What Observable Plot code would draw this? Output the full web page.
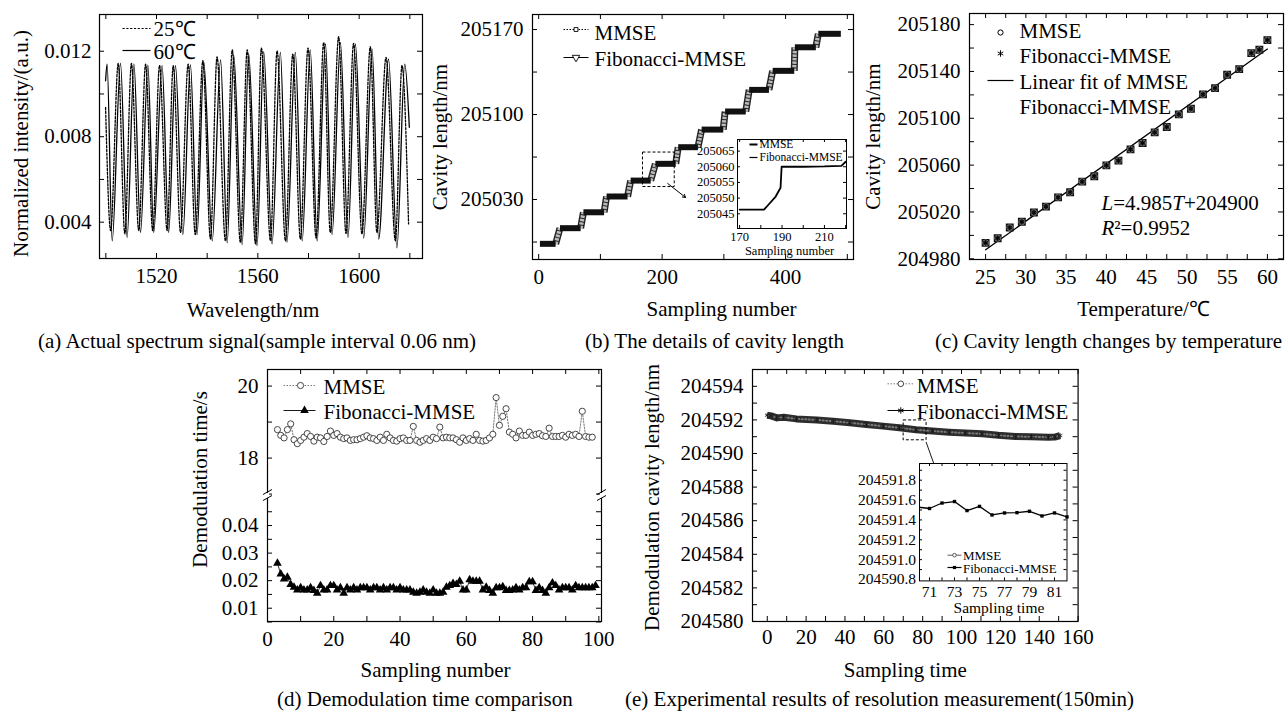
<!DOCTYPE html>
<html><head><meta charset="utf-8">
<script src="https://cdn.jsdelivr.net/npm/d3@7"></script>
<script src="https://cdn.jsdelivr.net/npm/@observablehq/plot@0.6"></script>
<style>
html,body{margin:0;padding:0;background:#fff;}
#root{position:relative;width:1288px;height:711px;overflow:hidden;font-family:"Liberation Serif","Times New Roman",serif;color:#000;background:#fff;}
#root svg, #root svg text{font-family:"Liberation Serif","Times New Roman",serif !important;}
.cap{position:absolute;font-size:21px;white-space:nowrap;line-height:1;}
</style></head><body><div id="root"></div>
<script>
// ---------- (a) spectrum: extrema ----------
const wl25 = [1499.9,1501.9,1504.9,1507.5,1510.1,1513.0,1515.7,1518.5,1521.2,1524.2,1526.6,1529.5,1532.5,1535.3,1538.3,1541.3,1543.9,1547.2,1549.9,1553.1,1555.8,1559.1,1561.4,1565.0,1567.6,1570.9,1573.8,1576.8,1579.8,1583.0,1586.0,1588.6,1591.9,1594.8,1597.8,1601.1,1604.4,1607.0,1610.6,1614.3,1616.9,1619.5];
const int25 = [0.00937,0.0036,0.01143,0.00345,0.01143,0.0036,0.0114,0.0036,0.01133,0.0036,0.01133,0.00352,0.0114,0.00342,0.01156,0.00321,0.01174,0.00313,0.01206,0.00306,0.01206,0.00298,0.01215,0.00313,0.01202,0.00313,0.01187,0.00321,0.01215,0.00326,0.01241,0.00352,0.01268,0.00347,0.01237,0.00345,0.01221,0.00352,0.01171,0.00313,0.01133,0.00392];
const wl60 = [1499.9,1500.5,1502.5,1505.8,1508.4,1511.1,1513.7,1516.6,1518.9,1522.2,1524.8,1527.5,1530.4,1533.4,1536.0,1538.7,1542.0,1545.3,1547.9,1550.5,1553.8,1556.4,1559.7,1562.3,1565.6,1568.9,1571.5,1574.8,1577.5,1580.7,1583.4,1586.7,1589.3,1592.6,1595.6,1598.5,1601.8,1605.1,1607.7,1611.6,1614.9,1618.0,1619.8];
const int60 = [0.01062,0.0114,0.00313,0.01143,0.00329,0.0114,0.00352,0.01135,0.00352,0.01133,0.00352,0.01133,0.00342,0.01136,0.00342,0.01148,0.00313,0.01159,0.00303,0.01179,0.00295,0.01187,0.0029,0.01198,0.00298,0.01195,0.00306,0.01195,0.00313,0.01206,0.00313,0.01234,0.00342,0.01241,0.00329,0.01234,0.00326,0.0121,0.00321,0.01163,0.0028,0.0114,0.00844];
const aXTicks = [1500,1520,1540,1560,1580,1600,1620];
const aXLabels = [1520,1560,1600];
const aYTicks = [0.004,0.006,0.008,0.010,0.012];
const aYLabels = [0.004,0.008,0.012];

// ---------- (b) cavity length staircase ----------
const stepStart = [2,34.5,72.5,110,149,189,226,264,302,341,379,415,453];
const stepEnd   = [27.5,68,106,144,181.5,222,258,299,335.5,373,414,449,489.5];
const stepLevel = [204993.5,205006.4,205019.5,205032.5,205045.6,205059.4,205073.1,205087.6,205102.5,205120.3,205136,205155.4,205166.5];
const bXTicks = [0,100,200,300,400,500];
const bXLabels = [0,200,400];
const bYTicks = [204995,205030,205065,205100,205135,205170];
const bYLabels = [205030,205100,205170];
// inset of (b)
const bInsN = [170,181.5,184,187,189.3,189.8,200,210,218,220];
const bInsL = [205046.3,205046.3,205048.2,205050.5,205053.3,205060,205060,205060.1,205060.3,205061.6];
const bInsXDomain = [169,220.4];
const bInsYDomain = [205040.3,205068.7];
const bInsXTicks = [170,180,190,200,210,220];
const bInsXLabels = [170,190,210];
const bInsYTicks = [205045,205050,205055,205060,205065];
const bArrow = [{x1:209,y1:205043.2,x2:238,y2:205031.7}];

// ---------- (c) cavity length vs temperature ----------
const tempC  = [25,26.5,28,29.5,31,32.5,34,35.5,37,38.5,40,41.5,43,44.5,46,47.5,49,50.5,52,53.5,55,56.5,58,59,60];
const lenC   = [204993.6,204997.6,205006.7,205011.6,205019.5,205024.6,205032.5,205036.8,205045.9,205050.5,205059.8,205063.8,205073.5,205078.9,205088,205092.6,205103.3,205108.2,205120.4,205125.8,205137.2,205142,205155.7,205158.5,205166.8];
const fitT = [25,60];
const fitL = [204987.7,205159.1];
const cXTicks = [25,27.5,30,32.5,35,37.5,40,42.5,45,47.5,50,52.5,55,57.5,60];
const cXLabels = [25,30,35,40,45,50,55,60];
const cYTicks = [204980,205000,205020,205040,205060,205080,205100,205120,205140,205160,205180];
const cYLabels = [204980,205020,205060,205100,205140,205180];
const eqText = "L=4.985T+204900";
const r2Text = "R²=0.9952";

// ---------- (d) demodulation time ----------
const dN = [3,4,5,6,7,8,9,10,11,12,13,14,15,16,17,18,19,20,21,22,23,24,25,26,27,28,29,30,31,32,33,34,35,36,37,38,39,40,41,42,43,44,45,46,47,48,49,50,51,52,53,54,55,56,57,58,59,60,61,62,63,64,65,66,67,68,69,70,71,72,73,74,75,76,77,78,79,80,81,82,83,84,85,86,87,88,89,90,91,92,93,94,95,96,97,98,99];
const dMMSE = [18.79,18.63,18.56,18.79,18.95,18.51,18.40,18.49,18.58,18.68,18.60,18.47,18.58,18.56,18.46,18.60,18.75,18.63,18.68,18.58,18.54,18.56,18.49,18.51,18.51,18.54,18.58,18.62,18.56,18.54,18.49,18.58,18.49,18.66,18.56,18.49,18.47,18.54,18.56,18.49,18.49,18.88,18.49,18.44,18.49,18.54,18.49,18.58,18.54,18.86,18.56,18.58,18.56,18.56,18.51,18.44,18.56,18.49,18.54,18.49,18.66,18.49,18.47,18.49,18.56,18.66,19.68,18.91,19.16,19.37,18.72,18.66,18.56,18.75,18.63,18.63,18.72,18.63,18.66,18.68,18.62,18.60,18.83,18.60,18.60,18.60,18.63,18.58,18.66,18.63,18.66,18.60,19.30,18.60,18.58,18.58];
const dFib = [0.0263,0.0224,0.0206,0.0212,0.0186,0.0176,0.0166,0.0174,0.0166,0.0166,0.0174,0.0164,0.0154,0.0182,0.0166,0.0166,0.0182,0.0182,0.0166,0.0174,0.0154,0.0174,0.0166,0.0174,0.0166,0.0174,0.0174,0.0174,0.0166,0.0174,0.0174,0.0166,0.0174,0.0166,0.0174,0.0174,0.0166,0.0174,0.0166,0.0166,0.0166,0.0158,0.0154,0.0158,0.0166,0.0158,0.0154,0.0166,0.0154,0.0154,0.0158,0.0176,0.0182,0.019,0.0186,0.0198,0.0166,0.0166,0.0203,0.0198,0.0198,0.0198,0.0166,0.0176,0.0164,0.0154,0.0174,0.0174,0.0178,0.0164,0.0164,0.0166,0.0174,0.0166,0.0174,0.0174,0.0196,0.0196,0.0164,0.0174,0.0164,0.0154,0.0174,0.0192,0.0182,0.0166,0.0174,0.0174,0.0174,0.0166,0.0182,0.0174,0.0174,0.0174,0.0174,0.0174,0.0182];
const dYDomain = [0.00518,0.0509,16.96,20.46];
const dXTicks = [0,10,20,30,40,50,60,70,80,90,100];
const dXLabels = [0,20,40,60,80,100];
const dYTicks = [0.005,0.01,0.015,0.02,0.025,0.03,0.035,0.04,0.045,17,18,19,20];
const dYLabels = [0.01,0.02,0.03,0.04,18,20];

// ---------- (e) resolution measurement ----------
const eT = [0,2,5,8.5,15,25.5,34,42.5,51,59.6,68,76.6,85,93.6,102,110.6,119,127.7,136,144.7,148,150.7];
const eL = [204592.28,204592.24,204592.12,204592.16,204592.06,204592.0,204591.92,204591.83,204591.73,204591.63,204591.53,204591.41,204591.34,204591.27,204591.22,204591.17,204591.08,204591.01,204591.0,204590.97,204590.98,204591.07];
const eXTicks = [0,10,20,30,40,50,60,70,80,90,100,110,120,130,140,150,160];
const eXLabels = [0,20,40,60,80,100,120,140,160];
const eYTicks = [204580,204581,204582,204583,204584,204585,204586,204587,204588,204589,204590,204591,204592,204593,204594,204595];
const eYLabels = [204580,204582,204584,204586,204588,204590,204592,204594];
// inset of (e)
const eInsT = [70,71,72,73,74,75,76,77,78,79,80,81,82];
const eInsL = [204591.53,204591.515,204591.57,204591.585,204591.494,204591.536,204591.45,204591.47,204591.473,204591.487,204591.44,204591.47,204591.43];
const eInsXDomain = [70.2,82];
const eInsYDomain = [204590.786,204591.968];
const eInsXTicks = [71,72,73,74,75,76,77,78,79,80,81];
const eInsXLabels = [71,73,75,77,79,81];
const eInsYTicks = [204590.9,204591.0,204591.1,204591.2,204591.3,204591.4,204591.5,204591.6,204591.7,204591.8,204591.9];
const eInsYLabels = [204590.8,204591.0,204591.2,204591.4,204591.6,204591.8];
const eArrow = [{x1:81.8,y1:204590.67,x2:88.5,y2:204588.5}];

const captions = [
  {t:"(a) Actual spectrum signal(sample interval 0.06 nm)", left:38, top:331},
  {t:"(b) The details of cavity length", left:585, top:331},
  {t:"(c) Cavity length changes by temperature", left:935, top:331},
  {t:"(d) Demodulation time comparison", left:277, top:689},
  {t:"(e) Experimental results of resolution measurement(150min)", left:625, top:689}
];

// ---------- helpers ----------
const root = document.getElementById("root");
const FONT = '"Liberation Serif","Times New Roman",Times,serif';

function place(opts, fx0, fy0, fx1, fy1, fs) {
  const svg = Plot.plot(Object.assign({
    width: fx1 - fx0, height: fy1 - fy0,
    marginTop: 0, marginRight: 0, marginBottom: 0, marginLeft: 0,
    style: {fontFamily: FONT, fontSize: fs + "px", overflow: "visible", color: "black", background: "transparent"}
  }, opts));
  svg.style.position = "absolute";
  svg.style.left = fx0 + "px";
  svg.style.top = fy0 + "px";
  svg.style.maxWidth = "none";
  root.appendChild(svg);
  return svg;
}
function inTicks(xv, yv, W, H, len) {
  return [
    Plot.ruleX(xv, {insetTop: H - len, stroke: "black"}),
    Plot.ruleX(xv, {insetBottom: H - len, stroke: "black"}),
    Plot.ruleY(yv, {insetRight: W - len, stroke: "black"}),
    Plot.ruleY(yv, {insetLeft: W - len, stroke: "black"})
  ];
}
function axes(xl, yl, fx, fy, px, py) {
  return [
    Plot.axisX(xl, {tickSize: 0, tickPadding: px, tickFormat: fx, label: null}),
    Plot.axisY(yl, {tickSize: 0, tickPadding: py, tickFormat: fy, label: null})
  ];
}
const lineSym = hw => ({draw(c){ c.moveTo(-hw, 0); c.lineTo(hw, 0); }});
function legLine(dx, dy, hw, o = {}) {
  return Plot.dot([0], Object.assign({frameAnchor: "top-left", dx, dy, symbol: lineSym(hw), fill: "none", stroke: "black", strokeWidth: 1.2}, o));
}
function legDot(dx, dy, symbol, o = {}) {
  return Plot.dot([0], Object.assign({frameAnchor: "top-left", dx, dy, symbol, stroke: "black", fill: "white", r: 3}, o));
}
function legText(t, dx, dy, o = {}) {
  return Plot.text([t], Object.assign({frameAnchor: "top-left", dx, dy, textAnchor: "start", lineAnchor: "middle"}, o));
}
function yTitle(t, dx, dy) {
  return Plot.text([t], {frameAnchor: "left", rotate: -90, dx, dy, textAnchor: "middle", lineAnchor: "middle"});
}
function xTitle(t, dx, dy) {
  return Plot.text([t], {frameAnchor: "bottom", dx, dy, textAnchor: "middle", lineAnchor: "middle"});
}
const fmtInt = d => String(d);
const zip = (a, b) => a.map((v, i) => ({x: v, y: b[i]}));

// ---------- (a) ----------
place({
  x: {domain: [1497.5, 1625]},
  y: {domain: [0.0023, 0.01372]},
  marks: [
    Plot.frame({stroke: "black", strokeWidth: 1.2}),
    ...inTicks(aXTicks, aYTicks, 323, 244, 5),
    Plot.line(zip(wl25, int25), {x: "x", y: "y", curve: "monotone-x", stroke: "black", strokeWidth: 1.3, strokeDasharray: "2.2,1.6"}),
    Plot.line(zip(wl60, int60), {x: "x", y: "y", curve: "monotone-x", stroke: "black", strokeWidth: 1.3}),
    ...axes(aXLabels, aYLabels, fmtInt, d3.format(".3f"), 10, 8),
    yTitle("Normalized intensity/(a.u.)", -78, 7),
    xTitle("Wavelength/nm", -8, 52),
    legLine(37, 14, 14, {strokeDasharray: "2.2,1.6"}),
    legText("25℃", 54, 15),
    legLine(37, 36, 14),
    legText("60℃", 54, 38)
  ]
}, 99, 14, 422, 258, 21);

// ---------- (b) ----------
const stepIdx = d3.range(stepLevel.length);
const rampIdx = d3.range(stepLevel.length - 1);
place({
  x: {domain: [-10, 510]},
  y: {domain: [204980.6, 205182.4]},
  marks: [
    Plot.frame({stroke: "black", strokeWidth: 1.2}),
    ...inTicks(bXTicks, bYTicks, 321, 245, 5),
    Plot.link(rampIdx, {x1: i => stepEnd[i], y1: i => stepLevel[i], x2: i => stepStart[i + 1], y2: i => stepLevel[i + 1], stroke: "#222", strokeWidth: 7}),
    Plot.link(rampIdx, {x1: i => stepEnd[i], y1: i => stepLevel[i], x2: i => stepStart[i + 1], y2: i => stepLevel[i + 1], stroke: "#bbb", strokeWidth: 4.2, strokeDasharray: "2.5,1"}),
    Plot.link(stepIdx, {x1: i => stepStart[i], x2: i => stepEnd[i], y1: i => stepLevel[i], y2: i => stepLevel[i], stroke: "#111", strokeWidth: 6}),
    Plot.rect([0], {x1: bInsXDomain[0], x2: bInsXDomain[1], y1: bInsYDomain[0], y2: bInsYDomain[1], fill: "none", stroke: "black", strokeDasharray: "3,2"}),
    Plot.arrow(bArrow, {x1: "x1", y1: "y1", x2: "x2", y2: "y2", stroke: "black", headLength: 5, strokeWidth: 1}),
    ...axes(bXLabels, bYLabels, fmtInt, fmtInt, 10, 9),
    yTitle("Cavity length/nm", -92, 0),
    xTitle("Sampling number", 28.5, 50),
    legLine(43.5, 15, 12.5, {strokeDasharray: "1.5,1.5", strokeWidth: 1}),
    legDot(43.5, 15, "square", {r: 2.2, strokeWidth: 0.9}),
    legText("MMSE", 62, 19),
    legLine(43.5, 43, 12.5, {strokeWidth: 1}),
    legDot(43.5, 43, "triangle", {r: 2.8, rotate: 180, strokeWidth: 0.9}),
    legText("Fibonacci-MMSE", 62, 45)
  ]
}, 532, 14, 853, 259, 21);

// inset (b)
place({
  x: {domain: bInsXDomain},
  y: {domain: bInsYDomain},
  marks: [
    Plot.frame({stroke: "black", fill: "white", strokeWidth: 1}),
    ...inTicks(bInsXTicks, bInsYTicks, 109, 89, 3),
    Plot.line(zip(bInsN, bInsL), {x: "x", y: "y", stroke: "black", strokeWidth: 1.8}),
    ...axes(bInsXLabels, bInsYTicks, fmtInt, fmtInt, 4, 3),
    xTitle("Sampling number", -2.5, 22),
    legLine(16, 5, 4, {strokeWidth: 2}),
    legText("MMSE", 22, 5, {fontSize: 11.5}),
    legLine(16, 18, 4, {strokeWidth: 1.2}),
    legText("Fibonacci-MMSE", 22, 18, {fontSize: 11.5})
  ]
}, 737, 139, 846, 228, 12.5);

// ---------- (c) ----------
const svgC = place({
  x: {domain: [23, 62]},
  y: {domain: [204979.4, 205189.5]},
  marks: [
    Plot.frame({stroke: "black", strokeWidth: 1.2}),
    ...inTicks(cXTicks, cYTicks, 314, 246, 5),
    Plot.line(zip(fitT, fitL), {x: "x", y: "y", stroke: "black", strokeWidth: 1.3}),
    Plot.dot(zip(tempC, lenC), {x: "x", y: "y", symbol: "square", r: 3.6, fill: "#333", stroke: "#111"}),
    Plot.dot(zip(tempC, lenC), {x: "x", y: "y", symbol: "circle", r: 3, fill: "none", stroke: "#888", strokeWidth: 0.8}),
    Plot.dot(zip(tempC, lenC), {x: "x", y: "y", symbol: "asterisk", r: 2.6, stroke: "#000", strokeWidth: 0.9}),
    ...axes(cXLabels, cYLabels, fmtInt, fmtInt, 10, 9),
    yTitle("Cavity length/nm", -96, 0),
    xTitle("Temperature/℃", 17, 50),
    legDot(31, 19, "circle", {r: 2.6, fill: "none", strokeWidth: 1}),
    legText("MMSE", 50, 18),
    legDot(31, 40, "asterisk", {r: 3, fill: "none", strokeWidth: 1}),
    legText("Fibonacci-MMSE", 50, 43),
    legLine(31, 67, 13),
    legText("Linear fit of MMSE", 50, 68.5),
    legText("Fibonacci-MMSE", 50, 93.5),
    legText(eqText, 132, 190),
    legText(r2Text, 132, 215)
  ]
}, 969, 13, 1283, 259, 21);
svgC.querySelectorAll("text").forEach(t => {
  if (t.textContent === eqText) t.innerHTML = '<tspan font-style="italic">L</tspan>=4.985<tspan font-style="italic">T</tspan>+204900';
  else if (t.textContent === r2Text) t.innerHTML = '<tspan font-style="italic">R</tspan>²=0.9952';
});

// ---------- (d) broken axis via piecewise linear y ----------
const breakGap = {draw(c){ c.moveTo(0, -2.5); c.lineTo(0, 2.5); }};
const breakSlash = {draw(c){ c.moveTo(-4.5, -1); c.lineTo(4.5, -6); c.moveTo(-4.5, 5); c.lineTo(4.5, 0); }};
place({
  x: {domain: [0, 100.8]},
  y: {type: "linear", domain: dYDomain, range: [252, 126, 126, 0]},
  marks: [
    Plot.frame({stroke: "black", strokeWidth: 1.2}),
    ...inTicks(dXTicks, dYTicks, 334, 252, 5),
    Plot.line(zip(dN, dMMSE), {x: "x", y: "y", stroke: "#555", strokeWidth: 0.8, strokeDasharray: "1.5,1.5"}),
    Plot.dot(zip(dN, dMMSE), {x: "x", y: "y", r: 3.1, fill: "white", stroke: "#333", strokeWidth: 0.9}),
    Plot.line(zip(dN, dFib), {x: "x", y: "y", stroke: "black", strokeWidth: 0.8}),
    Plot.dot(zip(dN, dFib), {x: "x", y: "y", symbol: "triangle", r: 3.2, fill: "black", stroke: "none"}),
    Plot.dot([0, 1], {frameAnchor: "left", symbol: breakGap, stroke: "white", strokeWidth: 3, fill: "none"}),
    Plot.dot([0, 1], {frameAnchor: "right", symbol: breakGap, stroke: "white", strokeWidth: 3, fill: "none"}),
    Plot.dot([0], {frameAnchor: "left", symbol: breakSlash, stroke: "black", strokeWidth: 1, fill: "none"}),
    Plot.dot([0], {frameAnchor: "right", symbol: breakSlash, stroke: "black", strokeWidth: 1, fill: "none"}),
    ...axes(dXLabels, dYLabels, fmtInt, d => d < 1 ? d.toFixed(2) : String(d), 10, 9),
    yTitle("Demodulation time/s", -67, -16),
    xTitle("Sampling number", 1, 49),
    legLine(32, 16, 16, {stroke: "#555", strokeWidth: 0.8, strokeDasharray: "1.5,1.5"}),
    legDot(33, 16, "circle", {r: 3.1, stroke: "#333", strokeWidth: 0.9}),
    legText("MMSE", 56, 18),
    legLine(32, 41, 16, {strokeWidth: 0.9}),
    legDot(37, 41, "triangle", {r: 3.2, fill: "black", stroke: "none"}),
    legText("Fibonacci-MMSE", 56, 43)
  ]
}, 267, 369, 601, 621, 21);

// ---------- (e) ----------
place({
  x: {domain: [-7.6, 160]},
  y: {domain: [204580, 204595]},
  marks: [
    Plot.frame({stroke: "black", strokeWidth: 1.2}),
    ...inTicks(eXTicks, eYTicks, 325.6, 252, 5),
    Plot.line(zip(eT, eL), {x: "x", y: "y", stroke: "#2e2e2e", strokeWidth: 7, strokeLinecap: "butt"}),
    Plot.line(zip(eT, eL), {x: "x", y: "y", stroke: "#777", strokeWidth: 2, strokeDasharray: "1,2.5"}),
    Plot.dot(zip(eT, eL), {x: "x", y: "y", symbol: "asterisk", r: 2.5, stroke: "#111", strokeWidth: 0.8}),
    Plot.rect([0], {x1: eInsXDomain[0], x2: eInsXDomain[1], y1: eInsYDomain[0], y2: eInsYDomain[1], fill: "none", stroke: "black", strokeDasharray: "3,2"}),
    Plot.arrow(eArrow, {x1: "x1", y1: "y1", x2: "x2", y2: "y2", stroke: "black", strokeWidth: 0.9, headLength: 5}),
    ...axes(eXLabels, eYLabels, fmtInt, fmtInt, 8, 9),
    yTitle("Demodulation cavity length/nm", -100, 2),
    xTitle("Sampling time", -10, 49),
    legLine(148.3, 14.3, 13.3, {stroke: "#555", strokeWidth: 0.8, strokeDasharray: "1.5,1.5"}),
    legDot(148.3, 14.3, "circle", {r: 2.8, stroke: "#333", strokeWidth: 0.9}),
    legText("MMSE", 164.3, 16.5),
    legLine(148.3, 41, 13.3, {strokeWidth: 1}),
    legDot(148.3, 41, "asterisk", {r: 3, fill: "none", strokeWidth: 1}),
    legText("Fibonacci-MMSE", 164.3, 42.5)
  ]
}, 751.7, 369, 1077.3, 621, 21);

// inset (e)
place({
  x: {domain: eInsXDomain},
  y: {domain: eInsYDomain},
  marks: [
    Plot.frame({stroke: "black", fill: "white", strokeWidth: 1}),
    ...inTicks(eInsXTicks, eInsYTicks, 147.5, 117.4, 3),
    Plot.line(zip(eInsT, eInsL), {x: "x", y: "y", stroke: "black", strokeWidth: 1.3, clip: true}),
    Plot.dot(zip(eInsT, eInsL).filter(d => d.x >= eInsXDomain[0]), {x: "x", y: "y", symbol: "square", r: 1.9, fill: "black"}),
    ...axes(eInsXLabels, eInsYLabels, fmtInt, d3.format(".1f"), 5, 3.5),
    xTitle("Sampling time", 5.7, 27),
    legLine(35, 91.7, 7, {stroke: "#333", strokeWidth: 0.8}),
    legDot(35, 91.7, "circle", {r: 1.8, stroke: "#333", strokeWidth: 0.8}),
    legText("MMSE", 43.5, 92.5, {fontSize: 13}),
    legLine(35, 104, 7, {strokeWidth: 1.2}),
    legDot(35, 104, "square", {r: 1.8, fill: "black", stroke: "none"}),
    legText("Fibonacci-MMSE", 43.5, 105, {fontSize: 13})
  ]
}, 918.5, 463.3, 1066, 580.7, 15.5);

// ---------- captions ----------
captions.forEach(c => {
  const d = document.createElement("div");
  d.className = "cap";
  d.textContent = c.t;
  d.style.left = c.left + "px";
  d.style.top = c.top + "px";
  root.appendChild(d);
});
</script>
</body></html>
